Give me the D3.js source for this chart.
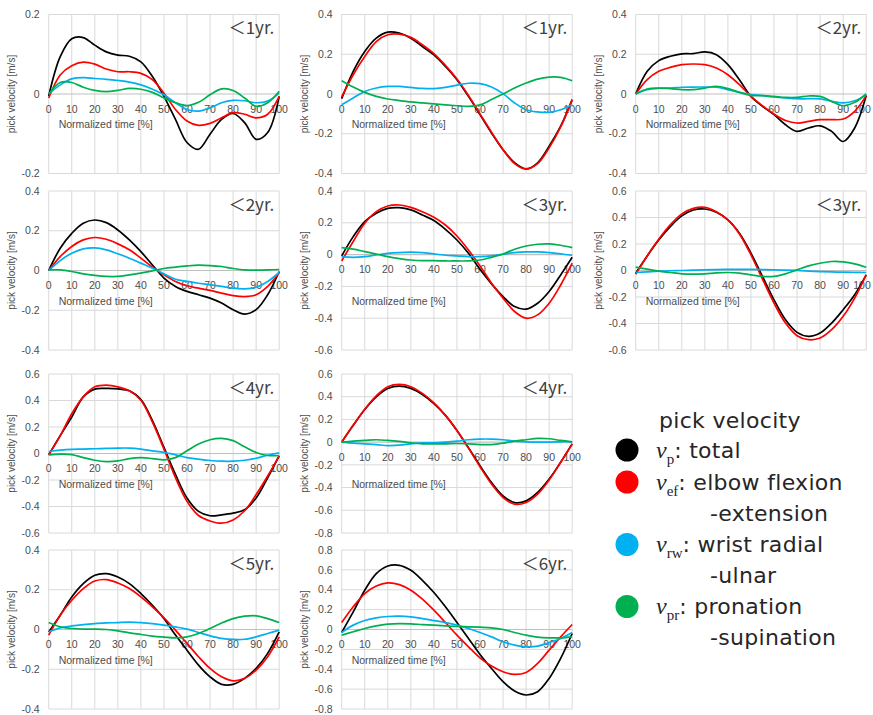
<!DOCTYPE html>
<html>
<head>
<meta charset="utf-8">
<script src="https://cdn.jsdelivr.net/npm/d3@7"></script>
<style>
  html, body { margin: 0; padding: 0; background: #fff; }
  svg { display: block; }
</style>
</head>
<body>
<div id="chart"></div>
<script>
// Normalized time samples (x axis, %)
const timePct = [0, 5, 10, 15, 20, 25, 30, 35, 40, 45, 50, 55, 60, 65, 70, 75, 80, 85, 90, 95, 100]

// Panel titles and y ranges
const panelLabels = ['＜1yr.', '＜1yr.', '＜2yr.', '＜2yr.', '＜3yr.', '＜3yr.', '＜4yr.', '＜4yr.', '＜5yr.', '＜6yr.']
const yRanges = [
  [-0.2, 0.2], [-0.4, 0.4], [-0.4, 0.4],
  [-0.4, 0.4], [-0.6, 0.4], [-0.6, 0.6],
  [-0.6, 0.6], [-0.8, 0.6],
  [-0.4, 0.4], [-0.8, 0.8],
]

// v_p: total
const vTotal = [
  [-0.005, 0.094, 0.139, 0.142, 0.123, 0.106, 0.098, 0.095, 0.081, 0.044, -0.006, -0.064, -0.122, -0.139, -0.101, -0.064, -0.049, -0.072, -0.114, -0.097, -0.006],
  [-0.023, 0.114, 0.214, 0.281, 0.311, 0.306, 0.281, 0.239, 0.197, 0.139, 0.072, -0.012, -0.104, -0.196, -0.28, -0.346, -0.377, -0.346, -0.263, -0.162, -0.028],
  [0, 0.114, 0.168, 0.19, 0.202, 0.203, 0.212, 0.198, 0.148, 0.072, -0.012, -0.062, -0.104, -0.155, -0.188, -0.171, -0.16, -0.188, -0.239, -0.171, -0.008],
  [0, 0.112, 0.187, 0.238, 0.254, 0.241, 0.204, 0.154, 0.095, 0.028, -0.038, -0.08, -0.105, -0.122, -0.139, -0.164, -0.197, -0.219, -0.197, -0.122, -0.005],
  [-0.008, 0.113, 0.207, 0.26, 0.291, 0.295, 0.281, 0.249, 0.214, 0.159, 0.092, 0.008, -0.092, -0.184, -0.264, -0.327, -0.343, -0.306, -0.232, -0.128, -0.017],
  [-0.02, 0.11, 0.231, 0.331, 0.412, 0.457, 0.464, 0.439, 0.382, 0.281, 0.131, -0.045, -0.221, -0.372, -0.467, -0.497, -0.472, -0.397, -0.296, -0.183, -0.033],
  [-0.01, 0.135, 0.275, 0.427, 0.486, 0.491, 0.488, 0.473, 0.407, 0.249, 0.046, -0.158, -0.336, -0.437, -0.47, -0.463, -0.45, -0.425, -0.336, -0.183, -0.018],
  [0, 0.148, 0.287, 0.399, 0.473, 0.494, 0.473, 0.42, 0.34, 0.236, 0.103, -0.05, -0.207, -0.355, -0.473, -0.532, -0.517, -0.443, -0.325, -0.177, -0.015],
  [-0.012, 0.072, 0.164, 0.231, 0.273, 0.281, 0.264, 0.231, 0.181, 0.122, 0.055, -0.028, -0.104, -0.179, -0.238, -0.276, -0.276, -0.246, -0.196, -0.12, -0.012],
  [-0.03, 0.177, 0.395, 0.562, 0.639, 0.646, 0.596, 0.495, 0.372, 0.228, 0.07, -0.09, -0.251, -0.392, -0.525, -0.619, -0.659, -0.626, -0.492, -0.29, -0.04],
]

// v_ef: elbow flexion-extension
const vElbow = [
  [-0.01, 0.048, 0.071, 0.08, 0.075, 0.063, 0.056, 0.056, 0.052, 0.036, 0.002, -0.039, -0.068, -0.079, -0.074, -0.06, -0.047, -0.051, -0.06, -0.051, -0.006],
  [-0.015, 0.097, 0.189, 0.264, 0.298, 0.301, 0.285, 0.248, 0.203, 0.144, 0.075, -0.008, -0.1, -0.192, -0.28, -0.35, -0.377, -0.35, -0.271, -0.166, -0.028],
  [0, 0.072, 0.114, 0.134, 0.148, 0.151, 0.148, 0.131, 0.097, 0.047, -0.012, -0.059, -0.101, -0.133, -0.146, -0.138, -0.129, -0.129, -0.126, -0.087, -0.008],
  [0, 0.07, 0.121, 0.154, 0.166, 0.157, 0.134, 0.104, 0.062, 0.017, -0.022, -0.055, -0.077, -0.089, -0.1, -0.114, -0.126, -0.131, -0.122, -0.08, -0.01],
  [-0.04, 0.082, 0.197, 0.27, 0.306, 0.312, 0.297, 0.27, 0.235, 0.186, 0.117, 0.029, -0.071, -0.18, -0.274, -0.358, -0.4, -0.379, -0.306, -0.191, -0.054],
  [-0.028, 0.11, 0.236, 0.344, 0.427, 0.469, 0.477, 0.444, 0.382, 0.276, 0.118, -0.065, -0.246, -0.397, -0.492, -0.522, -0.51, -0.447, -0.346, -0.208, -0.033],
  [-0.01, 0.135, 0.3, 0.427, 0.503, 0.516, 0.503, 0.473, 0.402, 0.236, 0.033, -0.183, -0.361, -0.468, -0.509, -0.526, -0.501, -0.432, -0.31, -0.17, -0.018],
  [0, 0.148, 0.29, 0.408, 0.488, 0.508, 0.488, 0.429, 0.346, 0.236, 0.103, -0.053, -0.216, -0.369, -0.488, -0.547, -0.532, -0.458, -0.334, -0.177, -0.015],
  [-0.028, 0.072, 0.147, 0.206, 0.244, 0.251, 0.234, 0.206, 0.164, 0.114, 0.059, -0.003, -0.07, -0.137, -0.196, -0.238, -0.258, -0.246, -0.204, -0.137, -0.037],
  [0.07, 0.228, 0.361, 0.438, 0.469, 0.452, 0.395, 0.305, 0.194, 0.07, -0.057, -0.174, -0.285, -0.368, -0.425, -0.452, -0.432, -0.341, -0.208, -0.074, 0.05],
]

// v_rw: wrist radial-ulnar
const vWrist = [
  [0, 0.023, 0.038, 0.041, 0.039, 0.037, 0.034, 0.03, 0.023, 0.012, -0.002, -0.022, -0.039, -0.043, -0.035, -0.022, -0.016, -0.017, -0.022, -0.018, 0.002],
  [-0.054, -0.02, 0.013, 0.03, 0.038, 0.038, 0.033, 0.028, 0.027, 0.033, 0.045, 0.054, 0.052, 0.035, 0.002, -0.045, -0.079, -0.09, -0.092, -0.079, -0.054],
  [0, 0.022, 0.029, 0.03, 0.034, 0.035, 0.035, 0.034, 0.022, 0.008, -0.003, -0.008, -0.015, -0.02, -0.024, -0.024, -0.025, -0.037, -0.045, -0.034, -0.003],
  [0, 0.05, 0.087, 0.109, 0.114, 0.104, 0.084, 0.062, 0.037, 0.012, -0.017, -0.044, -0.055, -0.064, -0.072, -0.08, -0.089, -0.092, -0.084, -0.055, -0.01],
  [-0.013, -0.017, -0.013, -0.002, 0.008, 0.013, 0.015, 0.013, 0.004, -0.004, -0.008, -0.013, -0.013, -0.008, 0.002, 0.013, 0.017, 0.017, 0.013, 0.004, -0.004],
  [-0.015, -0.01, -0.005, -0.002, 0, 0.003, 0.005, 0.007, 0.008, 0.008, 0.008, 0.007, 0.005, 0.003, 0, -0.004, -0.008, -0.011, -0.013, -0.014, -0.015],
  [0.015, 0.025, 0.031, 0.033, 0.036, 0.038, 0.041, 0.041, 0.033, 0.02, 0.008, -0.01, -0.031, -0.043, -0.053, -0.058, -0.058, -0.051, -0.036, -0.013, 0.005],
  [0, -0.009, -0.015, -0.021, -0.03, -0.027, -0.015, -0.006, -0.006, 0, 0.009, 0.021, 0.027, 0.027, 0.021, 0.009, 0.003, 0, 0, 0.003, 0.003],
  [-0.012, 0.008, 0.018, 0.025, 0.03, 0.033, 0.035, 0.037, 0.035, 0.03, 0.022, 0.013, 0.002, -0.015, -0.032, -0.045, -0.05, -0.049, -0.037, -0.02, -0.003],
  [-0.03, 0.044, 0.09, 0.117, 0.131, 0.134, 0.127, 0.11, 0.09, 0.07, 0.044, 0.01, -0.03, -0.074, -0.124, -0.157, -0.174, -0.167, -0.131, -0.09, -0.03],
]

// v_pr: pronation-supination
const vPron = [
  [0, 0.029, 0.029, 0.017, 0.009, 0.006, 0.009, 0.014, 0.012, 0.004, -0.01, -0.022, -0.029, -0.021, -0.002, 0.013, 0.009, -0.01, -0.031, -0.022, 0.007],
  [0.067, 0.035, 0.008, -0.012, -0.025, -0.033, -0.04, -0.045, -0.05, -0.055, -0.059, -0.062, -0.055, -0.028, 0, 0.03, 0.055, 0.075, 0.085, 0.084, 0.067],
  [0, 0.025, 0.03, 0.027, 0.022, 0.022, 0.03, 0.039, 0.027, 0.008, -0.007, -0.008, -0.012, -0.017, -0.017, -0.01, -0.012, -0.037, -0.059, -0.042, 0],
  [0.003, 0.003, -0.005, -0.017, -0.025, -0.03, -0.03, -0.022, -0.013, -0.002, 0.01, 0.017, 0.023, 0.027, 0.025, 0.02, 0.01, 0.003, 0.002, 0.003, 0.005],
  [0.044, 0.034, 0.019, 0.004, -0.013, -0.025, -0.034, -0.038, -0.038, -0.04, -0.04, -0.04, -0.034, -0.017, 0.004, 0.034, 0.054, 0.065, 0.067, 0.059, 0.044],
  [0.025, 0.01, -0.005, -0.015, -0.025, -0.028, -0.025, -0.018, -0.015, -0.02, -0.033, -0.045, -0.045, -0.025, 0.005, 0.035, 0.055, 0.068, 0.065, 0.05, 0.025],
  [-0.01, -0.005, -0.008, -0.031, -0.051, -0.061, -0.056, -0.038, -0.031, -0.038, -0.048, -0.031, 0.02, 0.071, 0.104, 0.114, 0.097, 0.051, 0.008, -0.015, -0.015],
  [0, 0.009, 0.015, 0.021, 0.015, 0.006, -0.006, -0.015, -0.015, -0.015, -0.012, -0.015, -0.021, -0.021, -0.009, 0.009, 0.021, 0.033, 0.03, 0.015, 0.003],
  [0.035, 0.013, 0.005, 0.002, 0.002, 0, -0.007, -0.017, -0.025, -0.033, -0.038, -0.042, -0.037, -0.02, 0.005, 0.033, 0.055, 0.067, 0.069, 0.055, 0.035],
  [-0.057, -0.023, 0.01, 0.037, 0.054, 0.06, 0.057, 0.05, 0.044, 0.037, 0.03, 0.027, 0.023, 0.017, 0, -0.03, -0.057, -0.077, -0.084, -0.084, -0.074],
]

const seriesList = [vTotal, vElbow, vWrist, vPron]
const seriesColors = ['#000000', '#ff0000', '#00b0f0', '#00b050']

// Legend entries: symbol subscript, first line, continuation line
const legendSubs = ['p', 'ef', 'rw', 'pr']
const legendMain = [': total', ': elbow flexion', ': wrist radial', ': pronation']
const legendCont = ['', '-extension', '-ulnar', '-supination']

const width = 873
const height = 715

const svg = d3
  .select('#chart')
  .append('svg')
  .attr('width', width)
  .attr('height', height)
  .attr('viewBox', [0, 0, width, height])

// Plot area placement of each panel
const colLeft = [48.7, 341.7, 635.7]
const rowTop = [14.5, 191, 374, 550]
const plotW = 230.5
const plotH = 159
const panelPos = [
  [0, 0], [1, 0], [2, 0],
  [0, 1], [1, 1], [2, 1],
  [0, 2], [1, 2],
  [0, 3], [1, 3],
]

const tickFont = '"Liberation Sans", Arial, sans-serif'
const fmt = (v) => (Math.abs(v) < 1e-9 ? '0' : String(+v.toFixed(1)))

panelPos.forEach(([c, r], i) => {
  const left = colLeft[c]
  const top = rowTop[r]
  const [ymin, ymax] = yRanges[i]

  const x = d3.scaleLinear().domain([0, 100]).range([0, plotW])
  const y = d3.scaleLinear().domain([ymin, ymax]).range([plotH, 0])

  const g = svg.append('g').attr('transform', `translate(${left},${top})`)

  // Gridlines
  const yTicks = d3.range(Math.round(ymin * 10), Math.round(ymax * 10) + 1, 2).map((d) => d / 10)
  const xTicks = d3.range(0, 101, 10)

  g.append('g')
    .selectAll('line')
    .data(xTicks)
    .join('line')
    .attr('x1', (d) => x(d))
    .attr('x2', (d) => x(d))
    .attr('y1', 0)
    .attr('y2', plotH)
    .attr('stroke', '#d9d9d9')
    .attr('stroke-width', 1)

  g.append('g')
    .selectAll('line')
    .data(yTicks.filter((d) => Math.abs(d) > 1e-9))
    .join('line')
    .attr('x1', 0)
    .attr('x2', plotW)
    .attr('y1', (d) => y(d))
    .attr('y2', (d) => y(d))
    .attr('stroke', '#d9d9d9')
    .attr('stroke-width', 1)

  // Zero axis
  g.append('line')
    .attr('x1', 0)
    .attr('x2', plotW)
    .attr('y1', y(0))
    .attr('y2', y(0))
    .attr('stroke', '#bfbfbf')
    .attr('stroke-width', 1.2)

  // Y tick labels
  g.append('g')
    .selectAll('text')
    .data(yTicks)
    .join('text')
    .attr('x', -9)
    .attr('y', (d) => y(d))
    .attr('dy', '0.35em')
    .attr('text-anchor', 'end')
    .attr('font-family', tickFont)
    .attr('font-size', 10.5)
    .attr('fill', '#4d4d4d')
    .text(fmt)

  // X tick labels sit under the zero line (kept inside the page on the right)
  const maxCenter = width - 2 - left - 9
  g.append('g')
    .selectAll('text')
    .data(xTicks)
    .join('text')
    .attr('x', (d) => Math.min(x(d), maxCenter))
    .attr('y', y(0) + 15)
    .attr('dy', '0.35em')
    .attr('text-anchor', 'middle')
    .attr('font-family', tickFont)
    .attr('font-size', 10.5)
    .attr('fill', '#4d4d4d')
    .text((d) => d)

  // Axis titles
  g.append('text')
    .attr('x', 10)
    .attr('y', 110)
    .attr('dy', '0.35em')
    .attr('font-family', tickFont)
    .attr('font-size', 10.5)
    .attr('fill', '#4d4d4d')
    .text('Normalized time [%]')

  g.append('text')
    .attr('transform', `translate(-37,${plotH / 2}) rotate(-90)`)
    .attr('text-anchor', 'middle')
    .attr('dy', '0.35em')
    .attr('font-family', tickFont)
    .attr('font-size', 10)
    .attr('fill', '#4d4d4d')
    .text('pick velocity [m/s]')

  // Series lines
  const line = d3
    .line()
    .x((d, k) => x(timePct[k]))
    .y((d) => y(d))
    .curve(d3.curveCatmullRom.alpha(0.5))

  seriesList.forEach((s, k) => {
    g.append('path')
      .datum(s[i])
      .attr('d', line)
      .attr('fill', 'none')
      .attr('stroke', seriesColors[k])
      .attr('stroke-width', 1.7)
  })

  // Age label
  g.append('text')
    .attr('x', plotW - 5)
    .attr('y', 19.5)
    .attr('text-anchor', 'end')
    .attr('font-family', '"Noto Sans CJK JP", "Noto Sans", sans-serif')
    .attr('font-size', 17)
    .attr('fill', '#404040')
    .text(panelLabels[i])
})

// Legend
const legend = svg
  .append('g')
  .attr('font-family', '"DejaVu Sans", "Noto Sans", sans-serif')
  .attr('fill', '#262626')
  .attr('letter-spacing', 0.3)

legend
  .append('text')
  .attr('x', 659)
  .attr('y', 428)
  .attr('font-size', 22)
  .text('pick velocity')

const rowY = [457.5, 489.5, 552, 614]

seriesColors.forEach((col, k) => {
  legend
    .append('circle')
    .attr('cx', 627)
    .attr('cy', rowY[k] - 7.5)
    .attr('r', 11.5)
    .attr('fill', col)

  const t = legend.append('text').attr('x', 656).attr('y', rowY[k]).attr('font-size', 22)
  t.append('tspan')
    .attr('font-family', '"Liberation Serif", "DejaVu Serif", serif')
    .attr('font-style', 'italic')
    .attr('font-size', 24)
    .attr('letter-spacing', 0)
    .text('v')
  t.append('tspan')
    .attr('font-family', '"Liberation Serif", "DejaVu Serif", serif')
    .attr('font-size', 15)
    .attr('letter-spacing', 0)
    .attr('dy', 6)
    .text(legendSubs[k])
  t.append('tspan').attr('dy', -6).text(legendMain[k])

  if (legendCont[k]) {
    legend
      .append('text')
      .attr('x', 710)
      .attr('y', rowY[k] + 31)
      .attr('font-size', 22)
      .text(legendCont[k])
  }
})
</script>
</body>
</html>
